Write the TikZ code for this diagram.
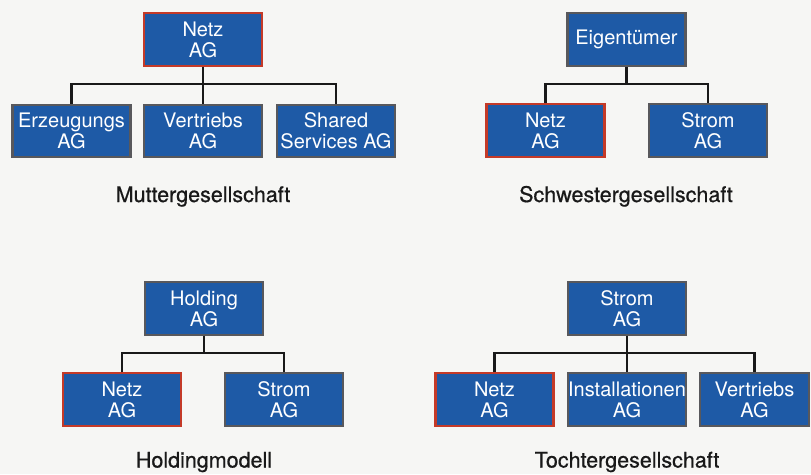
\documentclass[tikz,border=0pt]{standalone}
\usepackage{fontspec}
\setmainfont{TeX Gyre Heros}
\newfontfamily\capfont[FakeBold=0.7]{TeX Gyre Heros}
\definecolor{boxblue}{RGB}{30,90,166}
\definecolor{boxgray}{RGB}{88,88,92}
\definecolor{boxred}{RGB}{196,58,40}
\definecolor{paper}{RGB}{246,246,244}
\definecolor{ink}{RGB}{25,25,25}
\tikzset{
  orgbox/.style={rectangle, fill=boxblue, draw=boxgray, line width=2.4pt,
    minimum width=118pt, minimum height=52.5pt, inner sep=0pt, align=center,
    text=white, font=\fontsize{20}{21}\selectfont},
  redbox/.style={orgbox, draw=boxred},
  link/.style={draw=ink, line width=2.8pt, line join=miter},
  caption/.style={anchor=base, text=ink, inner sep=0pt, font=\capfont\fontsize{21.5}{24}\selectfont}
}
\begin{document}
\begin{tikzpicture}[x=1pt,y=-1pt]
\fill[paper] (0,0) rectangle (811,474);
\useasboundingbox (0,0) rectangle (811,474);

% --- Muttergesellschaft
\node[redbox]  (netzA) at (203,39.5) {Netz\\AG};
\node[orgbox]  (erzA)  at (71.5,131) {Erzeugungs\\AG};
\node[orgbox]  (verA)  at (203,131) {Vertriebs\\AG};
\node[orgbox]  (shaA)  at (336,131) {Shared\\Services AG};
\coordinate (barA) at (0,84);
\foreach \c in {erzA,verA,shaA}
  \draw[link] (netzA.south) -- (netzA.south |- barA) -| (\c.north);
\node[caption] (capA) at (203,202) {Muttergesellschaft};

% --- Schwestergesellschaft
\node[orgbox] (eigB)   at (626.5,39.5) {Eigentümer};
\node[redbox] (netzB)  at (545.5,130.5) {Netz\\AG};
\node[orgbox] (stromB) at (708,130.5) {Strom\\AG};
\coordinate (barB) at (0,84);
\foreach \c in {netzB,stromB}
  \draw[link] (eigB.south) -- (eigB.south |- barB) -| (\c.north);
\node[caption] (capB) at (626,202) {Schwestergesellschaft};

% --- Holdingmodell
\node[orgbox] (holdC)  at (204,308.5) {Holding\\AG};
\node[redbox] (netzC)  at (122,399.5) {Netz\\AG};
\node[orgbox] (stromC) at (284,399.5) {Strom\\AG};
\coordinate (barC) at (0,353);
\foreach \c in {netzC,stromC}
  \draw[link] (holdC.south) -- (holdC.south |- barC) -| (\c.north);
\node[caption] (capC) at (204,467.5) {Holdingmodell};

% --- Tochtergesellschaft
\node[orgbox] (stromD) at (627,308.5) {Strom\\AG};
\node[redbox] (netzD)  at (494.5,399.5) {Netz\\AG};
\node[orgbox] (instD)  at (627,399.5) {Installationen\\AG};
\node[orgbox, minimum width=109pt] (verD) at (754.5,399.5) {Vertriebs\\AG};
\coordinate (barD) at (0,353);
\foreach \c in {netzD,instD,verD}
  \draw[link] (stromD.south) -- (stromD.south |- barD) -| (\c.north);
\node[caption] (capD) at (627,467.5) {Tochtergesellschaft};
\end{tikzpicture}
\end{document}
